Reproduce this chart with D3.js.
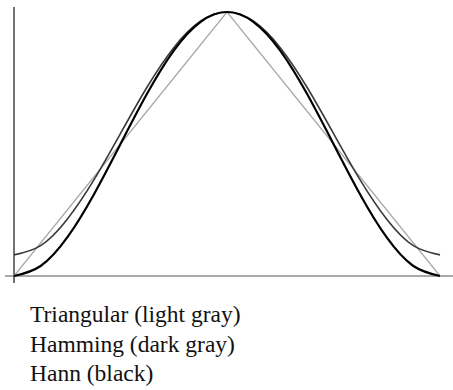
<!doctype html>
<html>
<head>
<meta charset="utf-8">
<title>Window functions</title>
<style>
  body { margin: 0; background: #fff; }
  svg { display: block; }
</style>
</head>
<body>
<div id="here"></div>
<script src="https://d3js.org/d3.v7.min.js"></script>
<script>
  var w = 453, h = 390;

  // sample positions (fraction of window length)
  var samples = [0, 0.0625, 0.125, 0.1875, 0.25, 0.3125, 0.375, 0.4375, 0.5,
                 0.5625, 0.625, 0.6875, 0.75, 0.8125, 0.875, 0.9375, 1];
  var triangular = [0, 0.125, 0.25, 0.375, 0.5, 0.625, 0.75, 0.875, 1,
                    0.875, 0.75, 0.625, 0.5, 0.375, 0.25, 0.125, 0];
  var hamming = [0.08, 0.115, 0.215, 0.364, 0.54, 0.716, 0.865, 0.965, 1,
                 0.965, 0.865, 0.716, 0.54, 0.364, 0.215, 0.115, 0.08];
  var hann = [0, 0.038, 0.146, 0.309, 0.5, 0.691, 0.854, 0.962, 1,
              0.962, 0.854, 0.691, 0.5, 0.309, 0.146, 0.038, 0];
  var labels = ["Triangular (light gray)", "Hamming (dark gray)", "Hann (black)"];

  var x = d3.scaleLinear().domain([0, 1]).range([14, 440]);
  var y = d3.scaleLinear().domain([0, 1]).range([276, 12]);

  var svg = d3.select("#here").append("svg")
    .attr("width", w)
    .attr("height", h);

  // axes (plain lines, no ticks)
  svg.append("line")
    .attr("x1", 5).attr("x2", w)
    .attr("y1", y(0)).attr("y2", y(0))
    .attr("stroke", "#555").attr("stroke-width", 1.2);
  svg.append("line")
    .attr("x1", x(0)).attr("x2", x(0))
    .attr("y1", 7).attr("y2", 283)
    .attr("stroke", "#444").attr("stroke-width", 1.5);

  var series = [
    {values: triangular, color: "#a8a8a8", width: 1.2, curve: d3.curveLinear},
    {values: hamming, color: "#3a3a3a", width: 1.6, curve: d3.curveNatural},
    {values: hann, color: "#000", width: 2.2, curve: d3.curveNatural}
  ];

  series.forEach(function(s) {
    var line = d3.line()
      .x(function(d, i) { return x(samples[i]); })
      .y(function(d) { return y(d); })
      .curve(s.curve);
    svg.append("path")
      .attr("d", line(s.values))
      .attr("fill", "none")
      .attr("stroke", s.color)
      .attr("stroke-width", s.width);
  });

  svg.selectAll(".lbl")
    .data(labels)
    .enter().append("text")
    .attr("class", "lbl")
    .attr("x", 30)
    .attr("y", function(d, i) { return 322 + i * 29.5; })
    .style("font-family", "'Liberation Serif', 'Times New Roman', serif")
    .style("font-size", "23.5px")
    .attr("fill", "#111")
    .text(function(d) { return d; });
</script>
</body>
</html>
